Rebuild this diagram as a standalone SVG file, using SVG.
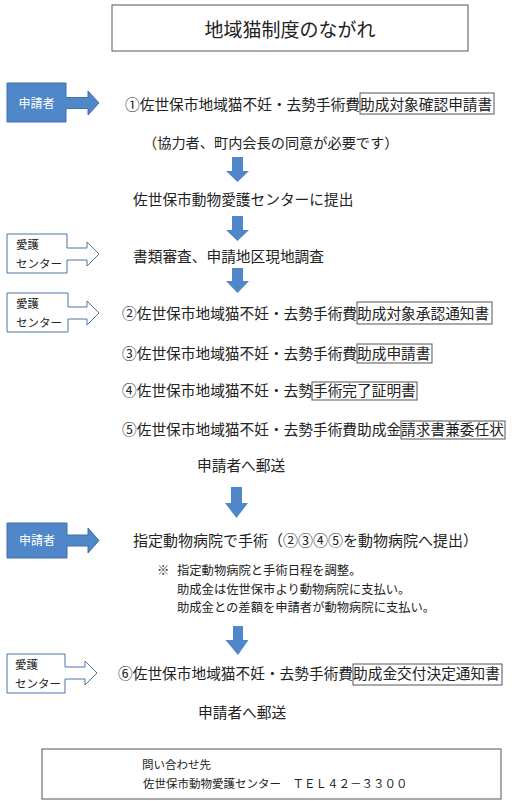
<svg xmlns="http://www.w3.org/2000/svg" width="523" height="801" viewBox="0 0 523 801">
<style>
  text { font-family: "Noto Sans CJK JP", "Noto Sans", sans-serif; fill: #222; }
  .main { font-size: 14.7px; }
  .note { font-size: 12.3px; }
  .small { font-size: 11.5px; }
  .frame { fill: none; stroke: #555; stroke-width: 1; }
  .docbox { fill: none; stroke: #555; stroke-width: 1; }
  .blue { fill: #4F87C8; stroke: #3E70AA; stroke-width: 1; }
  .outline { fill: #fff; stroke: #4A76A8; stroke-width: 1; }
  .down { fill: #4F87C8; }
  .wlabel { fill: #fff; font-size: 12px; }
</style>
<rect width="523" height="801" fill="#fff"/>

<g id="title">
  <rect class="frame" x="112" y="5" width="356" height="46"/>
  <text x="290" y="36.5" font-size="19" text-anchor="middle">地域猫制度のながれ</text>
</g>

<g id="actor-applicant-1">
  <path class="blue" d="M7,83 H66 V97.5 H88 V91 L99,103 L88,115 V108.5 H66 V122 H7 Z"/>
  <text class="wlabel" x="36.5" y="107.5" text-anchor="middle">申請者</text>
</g>

<g id="step-1">
  <rect class="docbox" x="360" y="93" width="134" height="21"/>
  <text class="main" x="125" y="109.5">①佐世保市地域猫不妊・去勢手術費助成対象確認申請書</text>
  <text x="143" y="147.5" font-size="14.2">（協力者、町内会長の同意が必要です）</text>
</g>

<g id="step-submit">
  <text class="main" x="133" y="204.5">佐世保市動物愛護センターに提出</text>
</g>

<g id="actor-center-1">
  <path class="outline" d="M7,234 H67 V248 H87 V242 L99,254 L87,266 V260 H67 V273 H7 Z"/>
  <text class="small" x="16" y="249">愛護</text>
  <text class="small" x="16" y="267.5">センター</text>
</g>

<g id="step-review">
  <text class="main" x="133" y="261.5">書類審査、申請地区現地調査</text>
</g>

<g id="actor-center-2">
  <path class="outline" d="M7,293 H68 V307 H87 V301 L99,313 L87,325 V319 H68 V332 H7 Z"/>
  <text class="small" x="16" y="307.5">愛護</text>
  <text class="small" x="16" y="327">センター</text>
</g>

<g id="step-2">
  <rect class="docbox" x="357" y="302" width="135" height="22"/>
  <text class="main" x="122" y="318.5">②佐世保市地域猫不妊・去勢手術費助成対象承認通知書</text>
</g>

<g id="step-3">
  <rect class="docbox" x="357" y="344" width="75" height="19"/>
  <text class="main" x="122" y="358.5">③佐世保市地域猫不妊・去勢手術費助成申請書</text>
</g>

<g id="step-4">
  <rect class="docbox" x="312" y="382" width="105" height="18"/>
  <text class="main" x="122" y="395.5">④佐世保市地域猫不妊・去勢手術完了証明書</text>
</g>

<g id="step-5">
  <rect class="docbox" x="401" y="421" width="104" height="18"/>
  <text class="main" x="122" y="434.5">⑤佐世保市地域猫不妊・去勢手術費助成金請求書兼委任状</text>
</g>

<g id="step-mail-1">
  <text class="main" x="197" y="470.5" font-size="14.3">申請者へ郵送</text>
</g>

<g id="actor-applicant-2">
  <path class="blue" d="M7,523 H67 V535 H88 V528 L99,540.5 L88,553 V546 H67 V558 H7 Z"/>
  <text class="wlabel" x="37" y="545" text-anchor="middle">申請者</text>
</g>

<g id="step-surgery">
  <text x="133" y="545.5" font-size="15">指定動物病院で手術（②③④⑤を動物病院へ提出）</text>
  <text class="note" x="157" y="574.5">※</text>
  <text class="note" x="177" y="574.5">指定動物病院と手術日程を調整。</text>
  <text class="note" x="177" y="593.5">助成金は佐世保市より動物病院に支払い。</text>
  <text class="note" x="177" y="611.5">助成金との差額を申請者が動物病院に支払い。</text>
</g>

<g id="actor-center-3">
  <path class="outline" d="M7,654 H65 V667 H85 V661 L97,673 L85,685 V679 H65 V693 H7 Z"/>
  <text class="small" x="15" y="669">愛護</text>
  <text class="small" x="15" y="687.5">センター</text>
</g>

<g id="step-6">
  <rect class="docbox" x="353" y="664" width="149" height="21"/>
  <text class="main" x="118" y="679">⑥佐世保市地域猫不妊・去勢手術費助成金交付決定通知書</text>
</g>

<g id="step-mail-2">
  <text class="main" x="198" y="717.5" font-size="14.3">申請者へ郵送</text>
</g>

<g id="contact">
  <rect class="frame" x="42" y="749" width="459" height="50"/>
  <text class="small" x="142" y="769">問い合わせ先</text>
  <text class="small" x="143" y="787.5">佐世保市動物愛護センター　ＴＥＬ４２－３３００</text>
</g>

<g id="connectors">
  <path class="down" d="M232,157 H243 V171 H249 L237.5,182 L226,171 H232 Z"/>
  <path class="down" d="M232,216 H243 V230 H249 L237.5,241 L226,230 H232 Z"/>
  <path class="down" d="M232,268 H243 V281 H249 L237.5,293 L226,281 H232 Z"/>
  <path class="down" d="M231,487 H242 V503 H248 L236.5,518 L225,503 H231 Z"/>
  <path class="down" d="M233,626 H243 V640 H248.5 L238,655 L225.5,640 H233 Z"/>
</g>
</svg>
